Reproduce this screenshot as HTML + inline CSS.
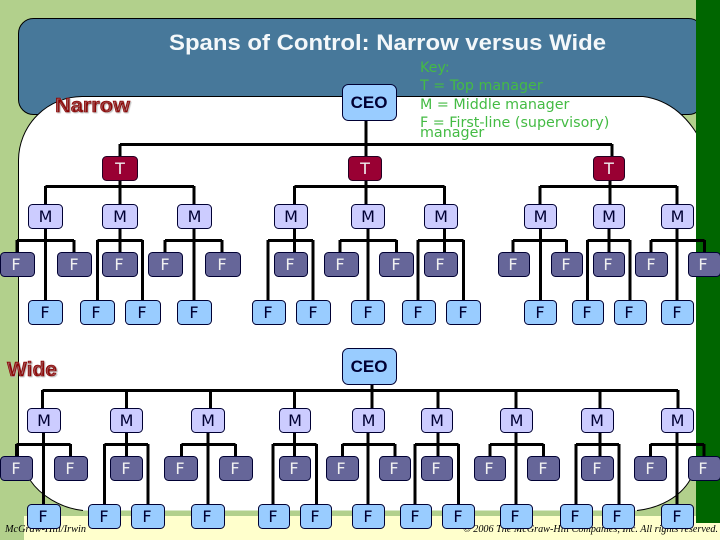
<!DOCTYPE html>
<html><head><meta charset="utf-8"><style>
html,body{margin:0;padding:0;background:#B2D08C}
svg{display:block}
.t rect{fill:#990033;stroke:#220022}
.m rect{fill:#CCCCFF;stroke:#000033}
.d rect{fill:#666699;stroke:#000033}
.l rect,.c rect{fill:#99CCFF;stroke:#000033}
.t text,.d text{fill:#F0F0F0}
.m text,.l text{fill:#000033}
.t text,.m text,.d text,.l text{font:16px "DejaVu Sans",sans-serif;text-anchor:middle}
.c text{font:bold 17px "Liberation Sans",sans-serif;text-anchor:middle;fill:#000033}
.k text{font:14.3px "DejaVu Sans",sans-serif;fill:#44BB44}
.r text{font:bold 20px "Liberation Sans",sans-serif;fill:#8B0000;text-shadow:1px 1px 1px #bbb;stroke:#8B0000;stroke-width:.6}
.f text{font:italic 10px "Liberation Serif",serif;fill:#000}
.w path{fill:none;stroke:#000;stroke-width:3}
</style></head><body>
<svg xmlns="http://www.w3.org/2000/svg" width="720" height="540" viewBox="0 0 720 540">
<rect width="720" height="540" fill="#B2D08C"/>
<rect x="24" y="516" width="696" height="24" fill="#FFFFCC"/>
<rect x="18.5" y="18.5" width="685" height="96" rx="15" fill="#47789A" stroke="#000"/>
<path d="M18.5,160 A64,64 0 0 1 82,96.5 H643 C670,100 690,118 703,145 V470 L690,480 C680,497 660,508 637,510.5 H83 C60,508 40,495 30,480 L18.5,465 Z" fill="#fff"/>
<path d="M18.5,465 V160 A64,64 0 0 1 82,96.5 H643 C670,100 690,118 703,145 M690,480 C680,497 660,508 637,510.5 M83,510.5 C60,508 40,495 30,480" fill="none" stroke="#000"/>
<rect x="696" y="0" width="24" height="523" fill="#006600"/>
<text x="169" y="50" font-family="Liberation Sans,sans-serif" font-weight="bold" font-size="22.5" fill="#F4F8FA" textLength="437" lengthAdjust="spacingAndGlyphs">Spans of Control: Narrow versus Wide</text>
<g class="k"><text x="420" y="72">Key:</text><text x="420" y="90">T = Top manager</text><text x="420" y="109">M = Middle manager</text><text x="420" y="127">F = First-line (supervisory)</text><text x="420" y="137">manager</text></g>
<g class="r"><text x="55" y="112" textLength="75" lengthAdjust="spacingAndGlyphs">Narrow</text><text x="7" y="376" textLength="50" lengthAdjust="spacingAndGlyphs">Wide</text></g>
<g class="f"><text x="5" y="532" textLength="81" lengthAdjust="spacingAndGlyphs">McGraw-Hill/Irwin</text><text x="463" y="532" textLength="255" lengthAdjust="spacingAndGlyphs">© 2006 The McGraw-Hill Companies, Inc. All rights reserved.</text></g>
<g class="w">
<path d="M366,120V156M120,144.5H612M120,144V156M612,144V156M120,180V204M45.5,186.5H194M45.5,186V204M194,186V204M366,180V204M294.5,186.5H444.5M294.5,186V204M444.5,186V204M610,180V204M540,186.5H677M540,186V204M677,186V204"/>
<path d="M45.5,229V300M17,240.5H74M17,240V252M74,240V252"/>
<path d="M120,229V252M97.5,240.5H142.5M97.5,240V300M142.5,240V300"/>
<path d="M194,229V300M165,240.5H222M165,240V252M222,240V252"/>
<path d="M294.5,229V252M268,240.5H313M268,240V300M313,240V300"/>
<path d="M368,229V300M340,240.5H396.5M340,240V252M396.5,240V252"/>
<path d="M444.5,229V252M418,240.5H463.5M418,240V300M463.5,240V300"/>
<path d="M540.5,229V300M513,240.5H566.5M513,240V252M566.5,240V252"/>
<path d="M609,229V252M587.5,240.5H630M587.5,240V300M630,240V300"/>
<path d="M677,229V300M651,240.5H704.5M651,240V252M704.5,240V252"/>
<path d="M372,384V408M42.5,390.5H678M42.5,390V408M126.5,390V408M210.5,390V408M294.5,390V408M438,390V408M516,390V408M600,390V408M678,390V408"/>
<path d="M43.5,432V504M16.5,444.5H70.5M16.5,444V456M70.5,444V456"/>
<path d="M126.5,432V456M104.5,444.5H148M104.5,444V504M148,444V504"/>
<path d="M208,432V504M181.5,444.5H235.5M181.5,444V456M235.5,444V456"/>
<path d="M294.5,432V456M273,444.5H316.5M273,444V504M316.5,444V504"/>
<path d="M368,432V504M342.5,444.5H395M342.5,444V456M395,444V456"/>
<path d="M438,432V456M415,444.5H458.5M415,444V504M458.5,444V504"/>
<path d="M516,432V504M490,444.5H543.5M490,444V456M543.5,444V456"/>
<path d="M600,432V456M576,444.5H619M576,444V504M619,444V504"/>
<path d="M677,432V504M650.5,444.5H704M650.5,444V456M704,444V456"/>
</g>
<g class="c">
<rect x="342.5" y="84.5" width="54" height="36" rx="6"/><text x="369" y="108">CEO</text>
<rect x="342.5" y="348.5" width="54" height="36" rx="6"/><text x="369" y="372">CEO</text>
</g>
<g class="t">
<rect x="102.5" y="156.5" width="35" height="24" rx="4"/><text x="120" y="174">T</text>
<rect x="348.5" y="156.5" width="33" height="24" rx="4"/><text x="365" y="174">T</text>
<rect x="593.5" y="156.5" width="31" height="24" rx="4"/><text x="609" y="174">T</text>
</g>
<g class="m">
<rect x="28.5" y="204.5" width="34" height="24" rx="4"/><text x="45.5" y="222">M</text>
<rect x="102.5" y="204.5" width="35" height="24" rx="4"/><text x="120" y="222">M</text>
<rect x="177.5" y="204.5" width="34" height="24" rx="4"/><text x="194.5" y="222">M</text>
<rect x="274.5" y="204.5" width="33" height="24" rx="4"/><text x="291" y="222">M</text>
<rect x="351.5" y="204.5" width="33" height="24" rx="4"/><text x="368" y="222">M</text>
<rect x="424.5" y="204.5" width="33" height="24" rx="4"/><text x="441" y="222">M</text>
<rect x="524.5" y="204.5" width="32" height="24" rx="4"/><text x="540.5" y="222">M</text>
<rect x="593.5" y="204.5" width="31" height="24" rx="4"/><text x="609" y="222">M</text>
<rect x="661.5" y="204.5" width="32" height="24" rx="4"/><text x="677.5" y="222">M</text>
<rect x="27.5" y="408.5" width="33" height="24" rx="4"/><text x="44" y="426">M</text>
<rect x="110.5" y="408.5" width="32" height="24" rx="4"/><text x="126.5" y="426">M</text>
<rect x="191.5" y="408.5" width="33" height="24" rx="4"/><text x="208" y="426">M</text>
<rect x="279.5" y="408.5" width="31" height="24" rx="4"/><text x="295" y="426">M</text>
<rect x="352.5" y="408.5" width="32" height="24" rx="4"/><text x="368.5" y="426">M</text>
<rect x="421.5" y="408.5" width="31" height="24" rx="4"/><text x="437" y="426">M</text>
<rect x="500.5" y="408.5" width="32" height="24" rx="4"/><text x="516.5" y="426">M</text>
<rect x="581.5" y="408.5" width="32" height="24" rx="4"/><text x="597" y="426">M</text>
<rect x="661.5" y="408.5" width="32" height="24" rx="4"/><text x="677.5" y="426">M</text>
</g>
<g class="d">
<rect x="0.5" y="252.5" width="34" height="24" rx="4"/><text x="16" y="270">F</text>
<rect x="57.5" y="252.5" width="34" height="24" rx="4"/><text x="74" y="270">F</text>
<rect x="102.5" y="252.5" width="35" height="24" rx="4"/><text x="119" y="270">F</text>
<rect x="148.5" y="252.5" width="34" height="24" rx="4"/><text x="165" y="270">F</text>
<rect x="205.5" y="252.5" width="35" height="24" rx="4"/><text x="222" y="270">F</text>
<rect x="274.5" y="252.5" width="33" height="24" rx="4"/><text x="290" y="270">F</text>
<rect x="324.5" y="252.5" width="34" height="24" rx="4"/><text x="340" y="270">F</text>
<rect x="379.5" y="252.5" width="34" height="24" rx="4"/><text x="396" y="270">F</text>
<rect x="424.5" y="252.5" width="33" height="24" rx="4"/><text x="440" y="270">F</text>
<rect x="498.5" y="252.5" width="31" height="24" rx="4"/><text x="513" y="270">F</text>
<rect x="551.5" y="252.5" width="31" height="24" rx="4"/><text x="566" y="270">F</text>
<rect x="593.5" y="252.5" width="31" height="24" rx="4"/><text x="608" y="270">F</text>
<rect x="635.5" y="252.5" width="32" height="24" rx="4"/><text x="651" y="270">F</text>
<rect x="688.5" y="252.5" width="32" height="24" rx="4"/><text x="703" y="270">F</text>
<rect x="0.5" y="456.5" width="32" height="24" rx="4"/><text x="16" y="474">F</text>
<rect x="54.5" y="456.5" width="33" height="24" rx="4"/><text x="70" y="474">F</text>
<rect x="110.5" y="456.5" width="32" height="24" rx="4"/><text x="126" y="474">F</text>
<rect x="164.5" y="456.5" width="33" height="24" rx="4"/><text x="180" y="474">F</text>
<rect x="219.5" y="456.5" width="33" height="24" rx="4"/><text x="235" y="474">F</text>
<rect x="279.5" y="456.5" width="31" height="24" rx="4"/><text x="294" y="474">F</text>
<rect x="326.5" y="456.5" width="32" height="24" rx="4"/><text x="341" y="474">F</text>
<rect x="379.5" y="456.5" width="31" height="24" rx="4"/><text x="394" y="474">F</text>
<rect x="421.5" y="456.5" width="31" height="24" rx="4"/><text x="436" y="474">F</text>
<rect x="474.5" y="456.5" width="31" height="24" rx="4"/><text x="489" y="474">F</text>
<rect x="527.5" y="456.5" width="32" height="24" rx="4"/><text x="543" y="474">F</text>
<rect x="581.5" y="456.5" width="32" height="24" rx="4"/><text x="597" y="474">F</text>
<rect x="634.5" y="456.5" width="32" height="24" rx="4"/><text x="650" y="474">F</text>
<rect x="688.5" y="456.5" width="32" height="24" rx="4"/><text x="703" y="474">F</text>
</g>
<g class="l">
<rect x="28.5" y="300.5" width="34" height="24" rx="4"/><text x="45" y="318">F</text>
<rect x="80.5" y="300.5" width="34" height="24" rx="4"/><text x="96" y="318">F</text>
<rect x="125.5" y="300.5" width="35" height="24" rx="4"/><text x="142" y="318">F</text>
<rect x="177.5" y="300.5" width="34" height="24" rx="4"/><text x="194" y="318">F</text>
<rect x="252.5" y="300.5" width="33" height="24" rx="4"/><text x="268" y="318">F</text>
<rect x="296.5" y="300.5" width="34" height="24" rx="4"/><text x="313" y="318">F</text>
<rect x="351.5" y="300.5" width="33" height="24" rx="4"/><text x="368" y="318">F</text>
<rect x="402.5" y="300.5" width="33" height="24" rx="4"/><text x="418" y="318">F</text>
<rect x="446.5" y="300.5" width="34" height="24" rx="4"/><text x="463" y="318">F</text>
<rect x="524.5" y="300.5" width="32" height="24" rx="4"/><text x="540" y="318">F</text>
<rect x="572.5" y="300.5" width="31" height="24" rx="4"/><text x="587" y="318">F</text>
<rect x="614.5" y="300.5" width="32" height="24" rx="4"/><text x="629" y="318">F</text>
<rect x="661.5" y="300.5" width="32" height="24" rx="4"/><text x="677" y="318">F</text>
<rect x="27.5" y="504.5" width="33" height="24" rx="4"/><text x="43" y="522">F</text>
<rect x="88.5" y="504.5" width="32" height="24" rx="4"/><text x="104" y="522">F</text>
<rect x="131.5" y="504.5" width="33" height="24" rx="4"/><text x="147" y="522">F</text>
<rect x="191.5" y="504.5" width="33" height="24" rx="4"/><text x="207" y="522">F</text>
<rect x="258.5" y="504.5" width="31" height="24" rx="4"/><text x="273" y="522">F</text>
<rect x="300.5" y="504.5" width="31" height="24" rx="4"/><text x="315" y="522">F</text>
<rect x="352.5" y="504.5" width="32" height="24" rx="4"/><text x="368" y="522">F</text>
<rect x="400.5" y="504.5" width="31" height="24" rx="4"/><text x="415" y="522">F</text>
<rect x="442.5" y="504.5" width="32" height="24" rx="4"/><text x="458" y="522">F</text>
<rect x="500.5" y="504.5" width="32" height="24" rx="4"/><text x="515" y="522">F</text>
<rect x="560.5" y="504.5" width="32" height="24" rx="4"/><text x="575" y="522">F</text>
<rect x="602.5" y="504.5" width="32" height="24" rx="4"/><text x="617" y="522">F</text>
<rect x="661.5" y="504.5" width="32" height="24" rx="4"/><text x="677" y="522">F</text>
</g>
</svg>
</body></html>
